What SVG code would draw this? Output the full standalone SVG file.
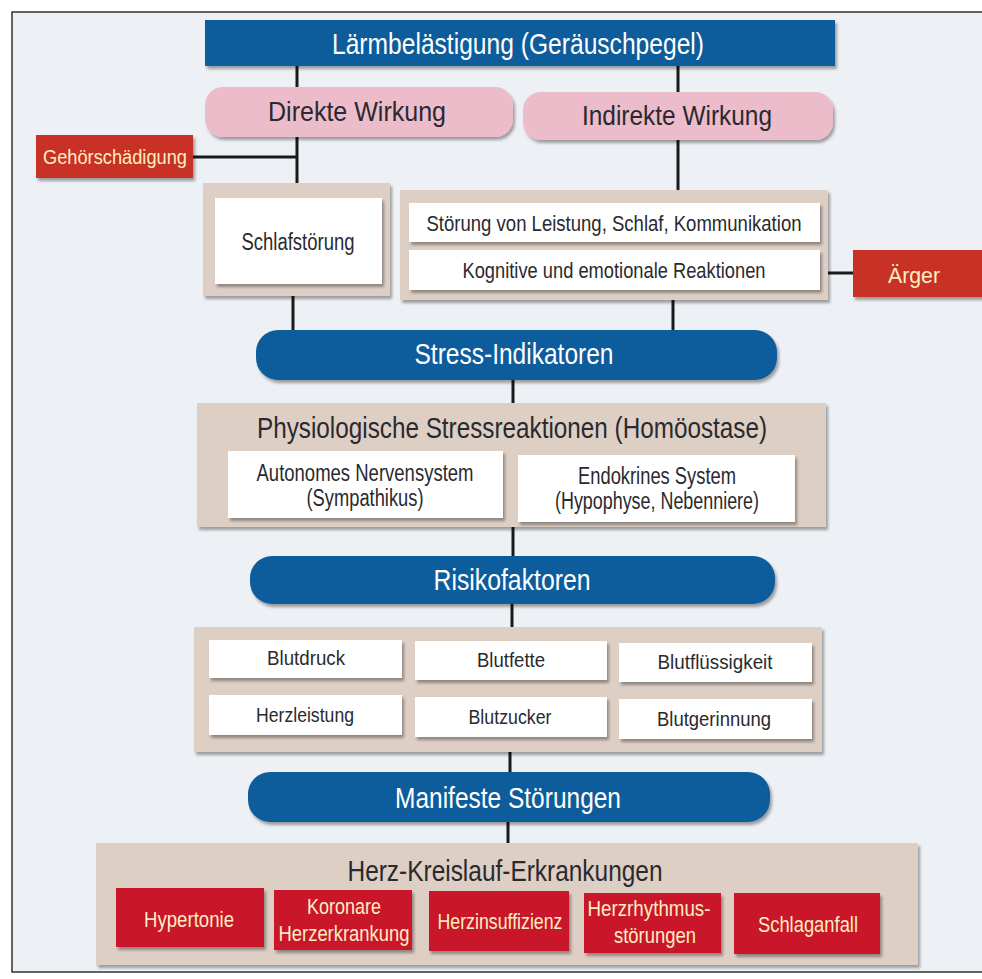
<svg xmlns="http://www.w3.org/2000/svg" width="982" height="979" viewBox="0 0 982 979">
<defs>
<filter id="sh" x="-10%" y="-10%" width="130%" height="140%">
<feDropShadow dx="2" dy="3" stdDeviation="1.5" flood-color="#000" flood-opacity="0.35"/>
</filter>
<style>
text{font-family:"Liberation Sans",Arial,sans-serif;text-anchor:middle}
.blue{fill:#0e5c9c}
.pink{fill:#ecbccb}
.beige{fill:#decfc5}
.white{fill:#ffffff}
.red{fill:#c83328}
.crim{fill:#c9152c}
.tw{fill:#ffffff}
.td{fill:#2a2a2e}
.ty{fill:#fbeec0}
.ln{stroke:#1a1a1a;stroke-width:3;fill:none}
</style>
</defs>
<rect x="0" y="0" width="982" height="979" fill="#ffffff"/>
<rect x="12" y="12" width="975" height="960" fill="#edf0f4" stroke="#333" stroke-width="1.5"/>

<g id="connectors">
<path class="ln" d="M297 66V195M193 157H297"/>
<path class="ln" d="M678 66V193"/>
<path class="ln" d="M820 273H853"/>
<path class="ln" d="M293 296V332M673 300V332"/>
<path class="ln" d="M513 380V403"/>
<path class="ln" d="M513 527V556"/>
<path class="ln" d="M512 604V628"/>
<path class="ln" d="M510 752V772"/>
<path class="ln" d="M508 822V843"/>
</g>

<g id="laerm">
<rect class="blue" x="205" y="20" width="630" height="46" filter="url(#sh)"/>
<text class="tw" x="518" y="54" font-size="30" textLength="372" lengthAdjust="spacingAndGlyphs">Lärmbelästigung (Geräuschpegel)</text>
</g>
<g id="direkt">
<rect class="pink" x="205" y="87" width="308" height="50" rx="18" filter="url(#sh)"/>
<text class="td" x="357" y="121" font-size="28" textLength="178" lengthAdjust="spacingAndGlyphs">Direkte Wirkung</text>
</g>
<g id="indirekt">
<rect class="pink" x="523" y="92" width="310" height="48" rx="18" filter="url(#sh)"/>
<text class="td" x="677" y="125" font-size="28" textLength="190" lengthAdjust="spacingAndGlyphs">Indirekte Wirkung</text>
</g>
<g id="gehoer">
<rect class="red" x="36" y="135" width="157" height="43" filter="url(#sh)"/>
<text class="ty" x="115" y="164" font-size="20" textLength="144" lengthAdjust="spacingAndGlyphs">Gehörschädigung</text>
</g>
<g id="schlaf">
<rect class="beige" x="203" y="183" width="187" height="113" filter="url(#sh)"/>
<rect class="white" x="215" y="198" width="167" height="86" filter="url(#sh)"/>
<text class="td" x="298" y="250" font-size="23" textLength="113" lengthAdjust="spacingAndGlyphs">Schlafstörung</text>
</g>
<g id="indirekt-folgen">
<rect class="beige" x="400" y="190" width="428" height="110" filter="url(#sh)"/>
<rect class="white" x="409" y="203" width="411" height="39" filter="url(#sh)"/>
<text class="td" x="614" y="231" font-size="22" textLength="375" lengthAdjust="spacingAndGlyphs">Störung von Leistung, Schlaf, Kommunikation</text>
<rect class="white" x="409" y="250" width="411" height="40" filter="url(#sh)"/>
<text class="td" x="614" y="278" font-size="22" textLength="303" lengthAdjust="spacingAndGlyphs">Kognitive und emotionale Reaktionen</text>
</g>
<g id="aerger">
<rect class="red" x="853" y="250" width="135" height="47" filter="url(#sh)"/>
<text class="ty" x="914" y="283" font-size="22" textLength="52" lengthAdjust="spacingAndGlyphs">Ärger</text>
</g>
<g id="stress">
<rect class="blue" x="256" y="330" width="521" height="50" rx="22" filter="url(#sh)"/>
<text class="tw" x="514" y="364" font-size="29" textLength="199" lengthAdjust="spacingAndGlyphs">Stress-Indikatoren</text>
</g>
<g id="physio">
<rect class="beige" x="197" y="403" width="629" height="124" filter="url(#sh)"/>
<text class="td" x="512" y="438" font-size="30" textLength="510" lengthAdjust="spacingAndGlyphs">Physiologische Stressreaktionen (Homöostase)</text>
<rect class="white" x="228" y="451" width="275" height="67" filter="url(#sh)"/>
<text class="td" x="365" y="481" font-size="23" textLength="217" lengthAdjust="spacingAndGlyphs">Autonomes Nervensystem</text>
<text class="td" x="365" y="506" font-size="23" textLength="117" lengthAdjust="spacingAndGlyphs">(Sympathikus)</text>
<rect class="white" x="518" y="455" width="277" height="67" filter="url(#sh)"/>
<text class="td" x="657" y="484" font-size="23" textLength="158" lengthAdjust="spacingAndGlyphs">Endokrines System</text>
<text class="td" x="657" y="509" font-size="23" textLength="204" lengthAdjust="spacingAndGlyphs">(Hypophyse, Nebenniere)</text>
</g>
<g id="risiko">
<rect class="blue" x="250" y="556" width="525" height="48" rx="22" filter="url(#sh)"/>
<text class="tw" x="512" y="590" font-size="29" textLength="157" lengthAdjust="spacingAndGlyphs">Risikofaktoren</text>
</g>
<g id="faktoren">
<rect class="beige" x="194" y="627" width="628" height="125" filter="url(#sh)"/>
<rect class="white" x="209" y="640" width="193" height="38" filter="url(#sh)"/>
<text class="td" x="306" y="665" font-size="21" textLength="78" lengthAdjust="spacingAndGlyphs">Blutdruck</text>
<rect class="white" x="415" y="641" width="192" height="39" filter="url(#sh)"/>
<text class="td" x="511" y="667" font-size="21" textLength="68" lengthAdjust="spacingAndGlyphs">Blutfette</text>
<rect class="white" x="619" y="643" width="193" height="39" filter="url(#sh)"/>
<text class="td" x="715" y="669" font-size="21" textLength="115" lengthAdjust="spacingAndGlyphs">Blutflüssigkeit</text>
<rect class="white" x="209" y="695" width="193" height="40" filter="url(#sh)"/>
<text class="td" x="305" y="722" font-size="21" textLength="98" lengthAdjust="spacingAndGlyphs">Herzleistung</text>
<rect class="white" x="415" y="697" width="192" height="40" filter="url(#sh)"/>
<text class="td" x="510" y="724" font-size="21" textLength="83" lengthAdjust="spacingAndGlyphs">Blutzucker</text>
<rect class="white" x="619" y="699" width="193" height="40" filter="url(#sh)"/>
<text class="td" x="714" y="726" font-size="21" textLength="114" lengthAdjust="spacingAndGlyphs">Blutgerinnung</text>
</g>
<g id="manifest">
<rect class="blue" x="248" y="772" width="522" height="50" rx="22" filter="url(#sh)"/>
<text class="tw" x="508" y="808" font-size="29" textLength="226" lengthAdjust="spacingAndGlyphs">Manifeste Störungen</text>
</g>
<g id="herzkreislauf">
<rect class="beige" x="96" y="843" width="822" height="122" filter="url(#sh)"/>
<text class="td" x="505" y="881" font-size="29" textLength="315" lengthAdjust="spacingAndGlyphs">Herz-Kreislauf-Erkrankungen</text>
<rect class="crim" x="116" y="888" width="148" height="59" filter="url(#sh)"/>
<text class="ty" x="189" y="927" font-size="22" textLength="90" lengthAdjust="spacingAndGlyphs">Hypertonie</text>
<rect class="crim" x="274" y="890" width="138" height="60" filter="url(#sh)"/>
<text class="ty" x="344" y="914" font-size="22" textLength="74" lengthAdjust="spacingAndGlyphs">Koronare</text>
<text class="ty" x="344" y="941" font-size="22" textLength="131" lengthAdjust="spacingAndGlyphs">Herzerkrankung</text>
<rect class="crim" x="429" y="891" width="140" height="60" filter="url(#sh)"/>
<text class="ty" x="500" y="929" font-size="22" textLength="125" lengthAdjust="spacingAndGlyphs">Herzinsuffizienz</text>
<rect class="crim" x="584" y="893" width="137" height="60" filter="url(#sh)"/>
<text class="ty" x="649" y="916" font-size="22" textLength="123" lengthAdjust="spacingAndGlyphs">Herzrhythmus-</text>
<text class="ty" x="655" y="943" font-size="22" textLength="82" lengthAdjust="spacingAndGlyphs">störungen</text>
<rect class="crim" x="734" y="893" width="146" height="61" filter="url(#sh)"/>
<text class="ty" x="808" y="932" font-size="22" textLength="100" lengthAdjust="spacingAndGlyphs">Schlaganfall</text>
</g>
</svg>
